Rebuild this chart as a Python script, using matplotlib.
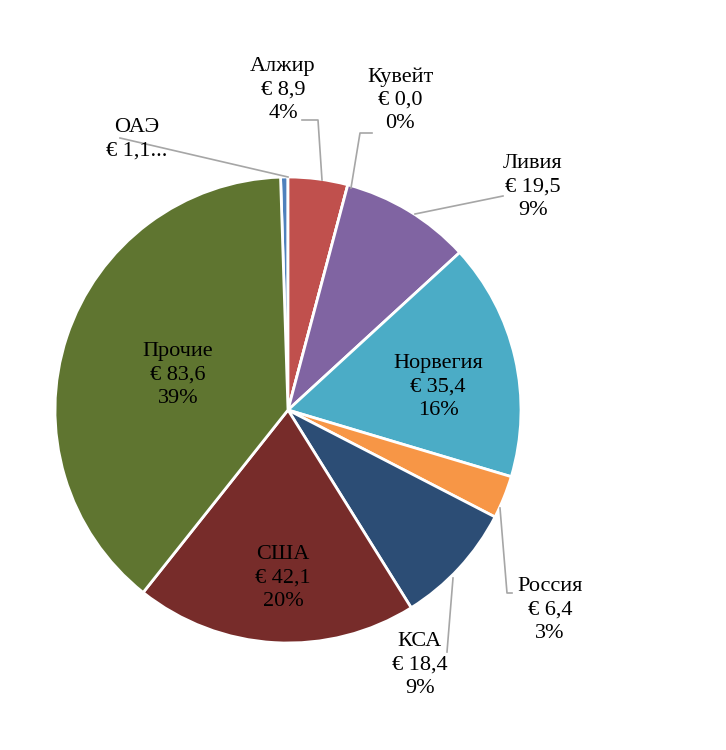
######## Импорт газа: круговая диаграмма ########
import matplotlib
matplotlib.use('Agg')
import matplotlib.pyplot as plt

### Данные ###
strany = ['ОАЭ', 'Алжир', 'Кувейт', 'Ливия', 'Норвегия', 'Россия', 'КСА', 'США', 'Прочие']
znachenia = [1.1, 8.9, 0.0, 19.5, 35.4, 6.4, 18.4, 42.1, 83.6]
tsveta = ['#4F81BD', '#C0504D', '#9BBB59', '#8064A2', '#4BACC6',
          '#F79646', '#2C4D75', '#772C2A', '#5F7530']

### Подписи ###
total = sum(znachenia)
podpisi = []
for s, v in zip(strany, znachenia):
    t = s + '\n€ ' + ('%.1f' % v).replace('.', ',')
    if s == 'ОАЭ':
        t = s + '\n€ 1,1...'
    else:
        t = t + '\n' + str(round(v / total * 100)) + '%'
    podpisi.append(t)

# позиции подписей (в пикселях, y снизу)
pos = {'ОАЭ': (137, 611), 'Алжир': (283, 660), 'Кувейт': (400, 650),
       'Ливия': (533, 563), 'Норвегия': (438, 363), 'Россия': (550, 140),
       'КСА': (420, 85), 'США': (283, 172), 'Прочие': (178, 375)}
# выносные линии
linii = {'ОАЭ': [(120, 612), (288, 573)],
         'Алжир': [(302, 630), (318, 630), (322, 570)],
         'Кувейт': [(372, 617), (360, 617), (351, 562)],
         'Ливия': [(503, 554), (415, 536)],
         'Россия': [(512, 157), (507, 157), (500, 242)],
         'КСА': [(447, 98), (453, 172)]}

### График ###
fig = plt.figure(figsize=(7.26, 7.5), dpi=100)
ax = fig.add_axes([0, 0, 1, 1])
ax.pie(znachenia, colors=tsveta, startangle=90 + znachenia[0] / total * 360,
       counterclock=False, center=(288, 340), radius=233,
       wedgeprops={'edgecolor': 'white', 'linewidth': 2})
ax.set_xlim(0, 726)
ax.set_ylim(0, 750)
ax.set_aspect('auto')
ax.axis('off')

for s, t in zip(strany, podpisi):
    ax.text(pos[s][0], pos[s][1], t, ha='center', va='center', fontsize=16,
            family='Liberation Serif', linespacing=1.3, color='black')

for s in linii:
    xs = [p[0] for p in linii[s]]
    ys = [p[1] for p in linii[s]]
    ax.plot(xs, ys, color='#A6A6A6', lw=1.2)

plt.savefig('out.png', dpi=100)
